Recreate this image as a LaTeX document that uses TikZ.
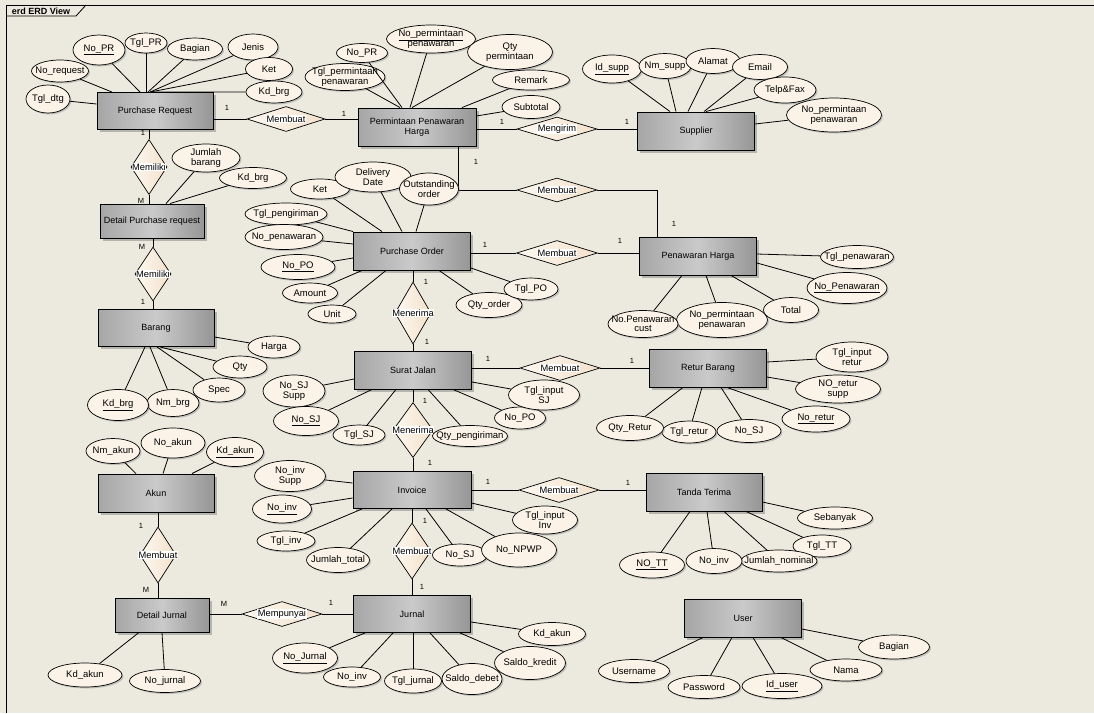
\documentclass[tikz,border=0pt]{standalone}
\usepackage{fontspec}
\setmainfont{Liberation Sans}
\usepackage{tikz}
\usetikzlibrary{shapes.geometric, shadows}
\definecolor{canvasbg}{RGB}{236,234,223}
\definecolor{attrfill}{RGB}{251,243,231}
\definecolor{relleft}{RGB}{253,248,241}
\definecolor{relright}{RGB}{243,225,203}
\definecolor{entleft}{RGB}{166,166,166}
\definecolor{entmid}{RGB}{202,202,202}
\definecolor{entright}{RGB}{150,150,150}

\begin{document}
\begin{tikzpicture}[x=1pt, y=-1pt,
  ent/.style={rectangle, draw=black, line width=0.9pt, left color=entleft, right color=entright, middle color=entmid,
    minimum width=117, minimum height=38, inner sep=1pt, align=center, font=\fontsize{9}{10}\selectfont,
    drop shadow={shadow xshift=2.5pt, shadow yshift=-2.5pt, fill=black!50, opacity=0.5}},
  attr/.style={ellipse, draw=black, line width=0.7pt, fill=attrfill, inner sep=0pt,
    drop shadow={shadow xshift=1.5pt, shadow yshift=-1.5pt, fill=black!50, opacity=0.4},
    label={[atxt]center:#1}},
  atxt/.style={font=\fontsize{9.5}{9.5}\selectfont, align=center, inner sep=0pt},
  sz/.style 2 args={minimum width=#1, minimum height=#2},
  rel/.style={diamond, draw=black, line width=0.7pt, left color=relleft, right color=relright, inner sep=0pt,
    label={[rtxt]center:#1}},
  rtxt/.style={font=\fontsize{9.3}{10}\selectfont, fill=white, inner sep=0.6pt},
  card/.style={font=\fontsize{7.5}{8}\selectfont, inner sep=0pt},
  link/.style={line width=0.8pt}
]
  \useasboundingbox (0,0) rectangle (1094,713);
  \fill[canvasbg] (0,0) rectangle (1094,713);

  % frame
  \draw[line width=0.8pt] (6,713) -- (6,5) -- (1094,5);
  \draw[line width=0.8pt] (6,16) -- (76,16) -- (86,5);
  \node[font=\fontsize{9}{10}\selectfont\bfseries, inner sep=0pt] (title) at (41,11) {erd ERD View};

  % entities
  \node[ent, minimum width=116, minimum height=37] (pr) at (155,111) {Purchase Request};
  \node[ent, minimum width=118] (pph) at (417,127) {Permintaan Penawaran\\Harga};
  \node[ent] (sup) at (696,131) {Supplier};
  \node[ent, minimum width=104, minimum height=34] (dpr) at (152,221) {Detail Purchase request};
  \node[ent, minimum width=116, minimum height=37] (brg) at (156,328) {Barang};
  \node[ent] (po) at (412,251) {Purchase Order};
  \node[ent] (ph) at (698,256) {Penawaran Harga};
  \node[ent] (sj) at (413,370) {Surat Jalan};
  \node[ent] (rb) at (708,368) {Retur Barang};
  \node[ent, minimum width=118, minimum height=37] (inv) at (412,490) {Invoice};
  \node[ent, minimum width=116] (tt) at (704,492) {Tanda Terima};
  \node[ent, minimum width=116] (akun) at (156,493) {Akun};
  \node[ent, minimum width=94, minimum height=34] (dj) at (162,615) {Detail Jurnal};
  \node[ent, minimum height=37] (jur) at (412,614) {Jurnal};
  \node[ent] (usr) at (743,618) {User};

  % relationships
  \node[rel=Membuat, sz={78}{25}] (rMb1) at (286,119) {};
  \node[rel=Memiliki, sz={36}{55}] (rMl1) at (149,167) {};
  \node[rel=Mengirim, sz={80}{24}] (rKirim) at (557,129) {};
  \node[rel=Membuat, sz={80}{24}] (rMb2) at (557,190) {};
  \node[rel=Membuat, sz={81}{25}] (rMb3) at (557,253) {};
  \node[rel=Menerima, sz={36}{62}] (rTrm1) at (413,313) {};
  \node[rel=Memiliki, sz={36}{54}] (rMl2) at (153,274) {};
  \node[rel=Membuat, sz={80}{25}] (rMb4) at (560,368) {};
  \node[rel=Menerima, sz={40}{55}] (rTrm2) at (413,430) {};
  \node[rel=Membuat, sz={80}{25}] (rMb5) at (559,490) {};
  \node[rel=Membuat, sz={38}{56}] (rMb6) at (412,551) {};
  \node[rel=Membuat, sz={36}{56}] (rMb7) at (158,555) {};
  \node[rel=Mempunyai, sz={80}{25}] (rPny) at (282,614) {};

  \draw[link] (rMb1.west -| pr.east) -- (rMb1.west);
  \draw[link] (rMb1.east) -- (rMb1.east -| pph.west);
  \draw[link] (pr.south -| rMl1.north) -- (rMl1.north);
  \draw[link] (rMl1.south) -- (rMl1.south |- dpr.north);
  \draw[link] (rKirim.west -| pph.east) -- (rKirim.west);
  \draw[link] (rKirim.east) -- (rKirim.east -| sup.west);
  \draw[link] ([xshift=41]pph.south) |- (rMb2.west);
  \draw[link] (rMb2.east) -| ([xshift=-41]ph.north);
  \draw[link] (rMb3.west -| po.east) -- (rMb3.west);
  \draw[link] (rMb3.east) -- (rMb3.east -| ph.west);
  \draw[link] (po.south -| rTrm1.north) -- (rTrm1.north);
  \draw[link] (rTrm1.south) -- (rTrm1.south |- sj.north);
  \draw[link] (dpr.south -| rMl2.north) -- (rMl2.north);
  \draw[link] (rMl2.south) -- (rMl2.south |- brg.north);
  \draw[link] (rMb4.west -| sj.east) -- (rMb4.west);
  \draw[link] (rMb4.east) -- (rMb4.east -| rb.west);
  \draw[link] (sj.south -| rTrm2.north) -- (rTrm2.north);
  \draw[link] (rTrm2.south) -- (rTrm2.south |- inv.north);
  \draw[link] (rMb5.west -| inv.east) -- (rMb5.west);
  \draw[link] (rMb5.east) -- (rMb5.east -| tt.west);
  \draw[link] (inv.south -| rMb6.north) -- (rMb6.north);
  \draw[link] (rMb6.south) -- (rMb6.south |- jur.north);
  \draw[link] (akun.south -| rMb7.north) -- (rMb7.north);
  \draw[link] (rMb7.south) -- (rMb7.south |- dj.north);
  \draw[link] (rPny.west -| dj.east) -- (rPny.west);
  \draw[link] (rPny.east) -- (rPny.east -| jur.west);

  % cardinalities
  \node[card] (c1) at (227,108) {1};
  \node[card] (c2) at (344,114) {1};
  \node[card] (c3) at (143,133) {1};
  \node[card] (c4) at (141,201) {M};
  \node[card] (c5) at (502,122) {1};
  \node[card] (c6) at (627,122) {1};
  \node[card] (c7) at (476,162) {1};
  \node[card] (c8) at (674,224) {1};
  \node[card] (c9) at (485,245) {1};
  \node[card] (c10) at (620,241) {1};
  \node[card] (c11) at (426,282) {1};
  \node[card] (c12) at (142,247) {M};
  \node[card] (c13) at (143,302) {1};
  \node[card] (c14) at (427,342) {1};
  \node[card] (c15) at (488,359) {1};
  \node[card] (c16) at (632,361) {1};
  \node[card] (c17) at (425,401) {1};
  \node[card] (c18) at (430,463) {1};
  \node[card] (c19) at (488,482) {1};
  \node[card] (c20) at (628,483) {1};
  \node[card] (c21) at (425,521) {1};
  \node[card] (c22) at (422,587) {1};
  \node[card] (c23) at (141,526) {1};
  \node[card] (c24) at (146,590) {M};
  \node[card] (c25) at (224,604) {M};
  \node[card] (c26) at (331,603) {1};

  % Purchase Request attributes
  \node[attr={\underline{No\_PR}}, sz={52}{30}] (aNoPR) at (99,50) {};
  \node[attr={Tgl\_PR}, sz={42}{20}] (aTglPR) at (146,43) {};
  \node[attr={Bagian}, sz={55}{22}] (aBagianPR) at (195,49) {};
  \node[attr={Jenis}, sz={50}{26}] (aJenis) at (253,47) {};
  \node[attr={Ket}, sz={47}{23}] (aKetPR) at (269,69) {};
  \node[attr={Kd\_brg}, sz={56}{22}] (aKdBrgPR) at (274,92) {};
  \node[attr={No\_request}, sz={57}{22}] (aNoReq) at (60,71) {};
  \node[attr={Tgl\_dtg}, sz={44}{28}] (aTglDtg) at (48,99) {};
  \draw[link] (aNoPR) -- ([xshift=-15]pr.north);
  \draw[link] (aTglPR) -- ([xshift=-9]pr.north);
  \draw[link] (aBagianPR) -- ([xshift=-7]pr.north);
  \draw[link] (aJenis) -- ([xshift=-5]pr.north);
  \draw[link] (aKetPR) -- ([xshift=-5]pr.north);
  \draw[link] (aKdBrgPR) -- ([xshift=-3]pr.north);
  \draw[link] (aNoReq) -- ([xshift=-43]pr.north);
  \draw[link] (aTglDtg) -- ([yshift=7]pr.west);

  % Permintaan Penawaran Harga attributes
  \node[attr={No\_PR}, sz={51}{19}] (aNoPRq) at (362,53) {};
  \node[attr={Tgl\_permintaan\\penawaran}, sz={80}{27}] (aTglPmt) at (345,77) {};
  \node[attr={\underline{No\_permintaan}\\penawaran}, sz={89}{28}] (aNoPmt) at (431,39) {};
  \node[attr={Qty\\permintaan}, sz={85}{35}] (aQtyPmt) at (510,52) {};
  \node[attr={Remark}, sz={77}{20}] (aRemark) at (531,80) {};
  \node[attr={Subtotal}, sz={58}{23}] (aSubtotal) at (531,107) {};
  \draw[link] (aNoPRq) -- ([xshift=-15]pph.north);
  \draw[link] (aTglPmt) -- ([xshift=-17]pph.north);
  \draw[link] (aNoPmt) -- ([xshift=-7]pph.north);
  \draw[link] (aQtyPmt) -- ([xshift=-5]pph.north);
  \draw[link] (aRemark) -- ([xshift=45]pph.north);
  \draw[link] (aSubtotal) -- ([yshift=11]pph.east);

  % Supplier attributes
  \node[attr={\underline{Id\_supp}}, sz={59}{28}] (aIdSupp) at (612,69) {};
  \node[attr={Nm\_supp}, sz={52}{25}] (aNmSupp) at (665,66) {};
  \node[attr={Alamat}, sz={54}{25}] (aAlamat) at (713,61) {};
  \node[attr={Email}, sz={55}{25}] (aEmail) at (760,67) {};
  \node[attr={Telp\&Fax}, sz={62}{26}] (aTelp) at (785,90) {};
  \node[attr={No\_permintaan\\penawaran}, sz={95}{34}] (aNoPmtSup) at (834,115) {};
  \draw[link] (aIdSupp) -- ([xshift=-26]sup.north);
  \draw[link] (aNmSupp) -- ([xshift=-20]sup.north);
  \draw[link] (aAlamat) -- ([xshift=-8]sup.north);
  \draw[link] (aEmail) -- ([xshift=8]sup.north);
  \draw[link] (aTelp) -- ([xshift=10]sup.north);
  \draw[link] (aNoPmtSup) -- ([yshift=7]sup.east);

  % Detail Purchase request attributes
  \node[attr={Jumlah\\barang}, sz={68}{28}] (aJmlBrg) at (206,158) {};
  \node[attr={Kd\_brg}, sz={67}{21}] (aKdBrgD) at (253,178) {};
  \draw[link] (aJmlBrg) -- ([xshift=14]dpr.north);
  \draw[link] (aKdBrgD) -- ([xshift=18]dpr.north);

  % Barang attributes
  \node[attr={Harga}, sz={52}{22}] (aHarga) at (274,347) {};
  \node[attr={Qty}, sz={54}{22}] (aQty) at (240,367) {};
  \node[attr={Spec}, sz={52}{24}] (aSpec) at (219,390) {};
  \node[attr={Nm\_brg}, sz={52}{27}] (aNmBrg) at (173,403) {};
  \node[attr={\underline{Kd\_brg}}, sz={61}{31}] (aKdBrg) at (118,405) {};
  \draw[link] (aHarga) -- ([yshift=-9]brg.east);
  \draw[link] (aQty) -- ([xshift=4]brg.south);
  \draw[link] (aSpec) -- ([xshift=1]brg.south);
  \draw[link] (aNmBrg) -- ([xshift=-6]brg.south);
  \draw[link] (aKdBrg) -- ([xshift=-11]brg.south);

  % Purchase Order attributes
  \node[attr={Ket}, sz={59}{20}] (aKetPO) at (320,189) {};
  \node[attr={Delivery\\Date}, sz={76}{30}] (aDelDate) at (373,177) {};
  \node[attr={Outstanding\\order}, sz={59}{32}] (aOutst) at (429,189) {};
  \node[attr={Tgl\_pengiriman}, sz={82}{22}] (aTglKirim) at (286,214) {};
  \node[attr={No\_penawaran}, sz={78}{25}] (aNoPnw) at (284,237) {};
  \node[attr={\underline{No\_PO}}, sz={74}{25}] (aNoPO) at (298,267) {};
  \node[attr={Amount}, sz={55}{20}] (aAmount) at (310,293) {};
  \node[attr={Unit}, sz={48}{18}] (aUnit) at (332,314) {};
  \node[attr={Qty\_order}, sz={66}{25}] (aQtyOrd) at (489,305) {};
  \node[attr={Tgl\_PO}, sz={54}{22}] (aTglPO) at (531,289) {};
  \draw[link] (aKetPO) -- ([xshift=-30]po.north);
  \draw[link] (aDelDate) -- ([xshift=-10]po.north);
  \draw[link] (aOutst) -- ([xshift=4]po.north);
  \draw[link] (aTglKirim) -- (po.north west);
  \draw[link] (aNoPnw) -- ([yshift=7]po.west);
  \draw[link] (aNoPO) -- ([yshift=-7]po.west);
  \draw[link] (aAmount) -- ([xshift=-50]po.south);
  \draw[link] (aUnit) -- ([xshift=-26]po.south);
  \draw[link] (aQtyOrd) -- ([xshift=27]po.south);
  \draw[link] (aTglPO) -- ([yshift=-17]po.east);

  % Penawaran Harga attributes
  \node[attr={Tgl\_penawaran}, sz={73}{23}] (aTglPnw) at (857,257) {};
  \node[attr={\underline{No\_Penawaran}}, sz={80}{31}] (aNoPnwPH) at (847,288) {};
  \node[attr={Total}, sz={55}{25}] (aTotal) at (791,310) {};
  \node[attr={No\_permintaan\\penawaran}, sz={91}{35}] (aNoPmtPH) at (722,320) {};
  \node[attr={No.Penawaran\\cust}, sz={70}{27}] (aNoPnwC) at (643,324) {};
  \draw[link] (aTglPnw) -- ([yshift=2]ph.east);
  \draw[link] (aNoPnwPH) -- ([yshift=-7]ph.east);
  \draw[link] (aTotal) -- ([xshift=33]ph.south);
  \draw[link] (aNoPmtPH) -- ([xshift=8]ph.south);
  \draw[link] (aNoPnwC) -- ([xshift=-16]ph.south);

  % Surat Jalan attributes
  \node[attr={No\_SJ\\Supp}, sz={62}{32}] (aNoSJS) at (294,391) {};
  \node[attr={\underline{No\_SJ}}, sz={65}{29}] (aNoSJ) at (306,421) {};
  \node[attr={Tgl\_SJ}, sz={52}{20}] (aTglSJ) at (359,435) {};
  \node[attr={Qty\_pengiriman}, sz={75}{21}] (aQtyKirim) at (470,436) {};
  \node[attr={No\_PO}, sz={51}{22}] (aNoPOsj) at (520,418) {};
  \node[attr={Tgl\_input\\SJ}, sz={71}{30}] (aTglInSJ) at (544,395) {};
  \draw[link] (aNoSJS) -- ([yshift=-9]sj.west);
  \draw[link] (aNoSJ) -- ([xshift=-41]sj.south);
  \draw[link] (aTglSJ) -- ([xshift=-17]sj.south);
  \draw[link] (aQtyKirim) -- ([xshift=15]sj.south);
  \draw[link] (aNoPOsj) -- ([xshift=40]sj.south);
  \draw[link] (aTglInSJ) -- ([yshift=-12]sj.east);

  % Retur Barang attributes
  \node[attr={Tgl\_input\\retur}, sz={72}{30}] (aTglInR) at (852,357) {};
  \node[attr={NO\_retur\\supp}, sz={85}{28}] (aNoRS) at (838,389) {};
  \node[attr={\underline{No\_retur}}, sz={68}{26}] (aNoRetur) at (816,419) {};
  \node[attr={No\_SJ}, sz={64}{23}] (aNoSJr) at (749,431) {};
  \node[attr={Tgl\_retur}, sz={54}{22}] (aTglRetur) at (689,432) {};
  \node[attr={Qty\_Retur}, sz={67}{25}] (aQtyRetur) at (630,428) {};
  \draw[link] (aTglInR) -- ([yshift=6]rb.east);
  \draw[link] (aNoRS) -- ([yshift=-9]rb.east);
  \draw[link] (aNoRetur) -- ([xshift=19]rb.south);
  \draw[link] (aNoSJr) -- ([xshift=13]rb.south);
  \draw[link] (aTglRetur) -- ([xshift=-6]rb.south);
  \draw[link] (aQtyRetur) -- ([xshift=-25]rb.south);

  % Invoice attributes
  \node[attr={No\_inv\\Supp}, sz={71}{31}] (aNoInvS) at (290,476) {};
  \node[attr={\underline{No\_inv}}, sz={59}{28}] (aNoInv) at (282,509) {};
  \node[attr={Tgl\_inv}, sz={58}{20}] (aTglInv) at (286,541) {};
  \node[attr={Jumlah\_total}, sz={63}{25}] (aJmlTot) at (338,560) {};
  \node[attr={No\_SJ}, sz={55}{22}] (aNoSJi) at (460,555) {};
  \node[attr={No\_NPWP}, sz={75}{34}] (aNPWP) at (519,550) {};
  \node[attr={Tgl\_input\\Inv}, sz={65}{28}] (aTglInInv) at (545,520) {};
  \draw[link] (aNoInvS) -- ([yshift=7]inv.west);
  \draw[link] (aNoInv) -- ([yshift=-8]inv.west);
  \draw[link] (aTglInv) -- ([xshift=-50]inv.south);
  \draw[link] (aJmlTot) -- ([xshift=-20]inv.south);
  \draw[link] (aNoSJi) -- ([xshift=14]inv.south);
  \draw[link] (aNPWP) -- ([xshift=34]inv.south);
  \draw[link] (aTglInInv) -- ([yshift=-13]inv.east);

  % Tanda Terima attributes
  \node[attr={Sebanyak}, sz={75}{22}] (aSebanyak) at (835,518) {};
  \node[attr={Tgl\_TT}, sz={58}{22}] (aTglTT) at (822,546) {};
  \node[attr={Jumlah\_nominal}, sz={76}{22}] (aJmlNom) at (779,561) {};
  \node[attr={No\_inv}, sz={56}{25}] (aNoInvTT) at (714,561) {};
  \node[attr={\underline{NO\_TT}}, sz={65}{26}] (aNoTT) at (652,565) {};
  \draw[link] (aSebanyak) -- ([yshift=-10]tt.east);
  \draw[link] (aTglTT) -- ([xshift=42]tt.south);
  \draw[link] (aJmlNom) -- ([xshift=20]tt.south);
  \draw[link] (aNoInvTT) -- ([xshift=3]tt.south);
  \draw[link] (aNoTT) -- ([xshift=-14]tt.south);

  % Akun attributes
  \node[attr={Nm\_akun}, sz={54}{25}] (aNmAkun) at (113,451) {};
  \node[attr={No\_akun}, sz={64}{30}] (aNoAkun) at (173,443) {};
  \node[attr={\underline{Kd\_akun}}, sz={57}{29}] (aKdAkun) at (235,452) {};
  \draw[link] (aNmAkun) -- ([xshift=-20]akun.north);
  \draw[link] (aNoAkun) -- ([xshift=7]akun.north);
  \draw[link] (aKdAkun) -- ([xshift=36]akun.north);

  % Detail Jurnal attributes
  \node[attr={Kd\_akun}, sz={74}{24}] (aKdAkunDJ) at (85,675) {};
  \node[attr={No\_jurnal}, sz={71}{23}] (aNoJurDJ) at (165,681) {};
  \draw[link] (aKdAkunDJ) -- ([xshift=-23]dj.south);
  \draw[link] (aNoJurDJ) -- (dj.south);

  % Jurnal attributes
  \node[attr={\underline{No\_Jurnal}}, sz={65}{30}] (aNoJur) at (305,658) {};
  \node[attr={No\_inv}, sz={57}{20}] (aNoInvJ) at (352,677) {};
  \node[attr={Tgl\_jurnal}, sz={57}{24}] (aTglJur) at (413,681) {};
  \node[attr={Saldo\_debet}, sz={60}{31}] (aSaldoD) at (472,679) {};
  \node[attr={Saldo\_kredit}, sz={71}{33}] (aSaldoK) at (530,663) {};
  \node[attr={Kd\_akun}, sz={67}{23}] (aKdAkunJ) at (552,634) {};
  \draw[link] (aNoJur) -- ([xshift=-47]jur.south);
  \draw[link] (aNoInvJ) -- ([xshift=-19]jur.south);
  \draw[link] (aTglJur) -- ([xshift=1]jur.south);
  \draw[link] (aSaldoD) -- ([xshift=18]jur.south);
  \draw[link] (aSaldoK) -- ([xshift=48]jur.south);
  \draw[link] (aKdAkunJ) -- ([yshift=-8]jur.east);

  % User attributes
  \node[attr={Bagian}, sz={71}{24}] (aBagianU) at (894,647) {};
  \node[attr={Nama}, sz={72}{22}] (aNama) at (846,670) {};
  \node[attr={\underline{Id\_user}}, sz={80}{25}] (aIdUser) at (782,686) {};
  \node[attr={Password}, sz={72}{23}] (aPass) at (704,687) {};
  \node[attr={Username}, sz={71}{23}] (aUname) at (634,671) {};
  \draw[link] (aBagianU) -- ([yshift=-11]usr.east);
  \draw[link] (aNama) -- ([xshift=38]usr.south);
  \draw[link] (aIdUser) -- ([xshift=10]usr.south);
  \draw[link] (aPass) -- ([xshift=-11]usr.south);
  \draw[link] (aUname) -- ([xshift=-40]usr.south);
\end{tikzpicture}
\end{document}
